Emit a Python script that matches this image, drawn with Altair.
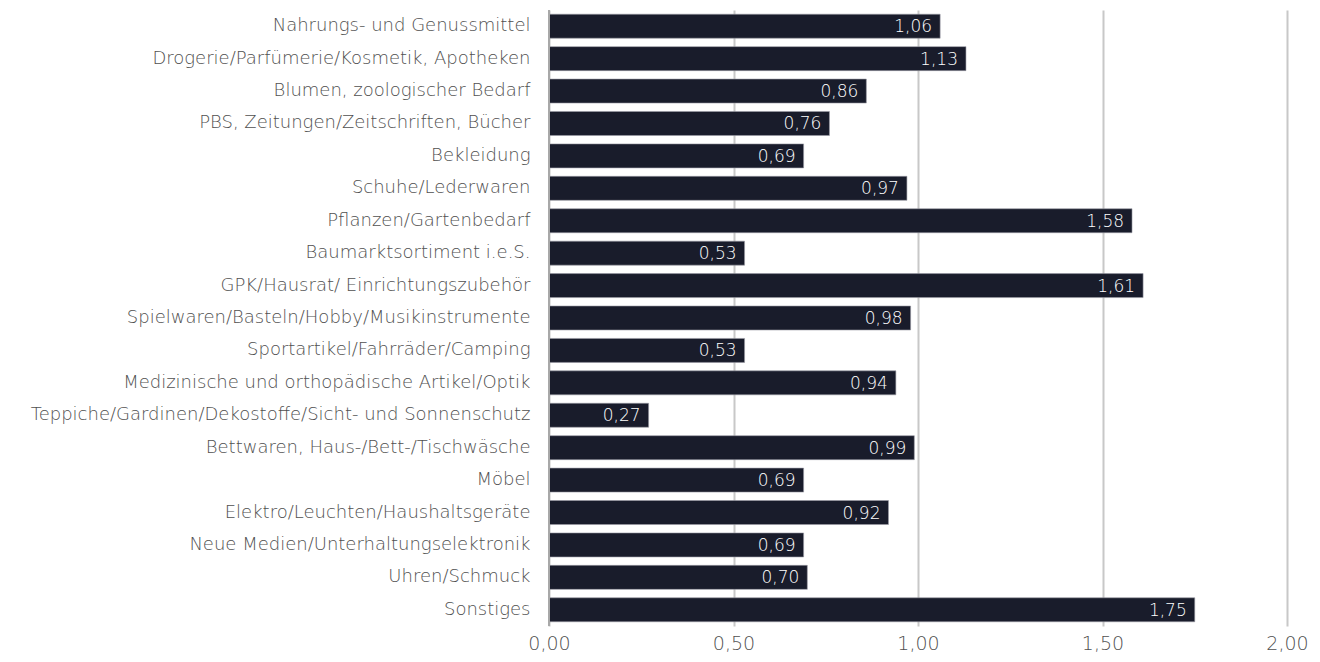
import altair as alt
import pandas as pd

categories = [
    "Nahrungs- und Genussmittel",
    "Drogerie/Parfümerie/Kosmetik, Apotheken",
    "Blumen, zoologischer Bedarf",
    "PBS, Zeitungen/Zeitschriften, Bücher",
    "Bekleidung",
    "Schuhe/Lederwaren",
    "Pflanzen/Gartenbedarf",
    "Baumarktsortiment i.e.S.",
    "GPK/Hausrat/ Einrichtungszubehör",
    "Spielwaren/Basteln/Hobby/Musikinstrumente",
    "Sportartikel/Fahrräder/Camping",
    "Medizinische und orthopädische Artikel/Optik",
    "Teppiche/Gardinen/Dekostoffe/Sicht- und Sonnenschutz",
    "Bettwaren, Haus-/Bett-/Tischwäsche",
    "Möbel",
    "Elektro/Leuchten/Haushaltsgeräte",
    "Neue Medien/Unterhaltungselektronik",
    "Uhren/Schmuck",
    "Sonstiges",
]
values = [1.06, 1.13, 0.86, 0.76, 0.69, 0.97, 1.58, 0.53, 1.61, 0.98,
          0.53, 0.94, 0.27, 0.99, 0.69, 0.92, 0.69, 0.70, 1.75]
x_ticks = [0, 0.5, 1.0, 1.5, 2.0]

df = pd.DataFrame({"cat": categories, "val": values})
df["label"] = [f"{v:.2f}".replace(".", ",") for v in values]

FONT = "DejaVu Sans"
BAR = "#191c2b"

y = alt.Y("cat:N", sort=categories, title=None,
          scale=alt.Scale(paddingInner=0.26, paddingOuter=0.13),
          axis=alt.Axis(labelFontSize=18, labelColor="#505050", labelFont=FONT,
                        labelFontWeight=200, labelPadding=19, labelLimit=0,
                        ticks=False, domain=False, grid=False))
x = alt.X("val:Q", title=None,
          scale=alt.Scale(domain=[0, 2], nice=False),
          axis=alt.Axis(values=x_ticks, labelExpr="replace(format(datum.value, '.2f'), '.', ',')",
                        labelFontSize=19, labelColor="#505050", labelFont=FONT,
                        labelFontWeight=200, labelPadding=8, labelFlush=False,
                        ticks=False, domain=False,
                        grid=True, gridColor="#c8c8c8", gridWidth=2))

bars = alt.Chart(df).mark_bar(color=BAR, stroke="#9a9aa4", strokeWidth=0.6).encode(x=x, y=y)
text = alt.Chart(df).mark_text(align="right", baseline="middle", dx=-8, dy=1, color="white",
                               fontSize=17, font=FONT, fontWeight=200).encode(
    x="val:Q", y=alt.Y("cat:N", sort=categories), text="label:N")

zero = alt.Chart(pd.DataFrame({"z": [0]})).mark_rule(color="#a8a8a8", strokeWidth=2).encode(x="z:Q")

chart = alt.layer(bars, zero, text).properties(
    width=738, height=616,
    background="white",
    autosize=alt.AutoSizeParams(type="none"),
    padding={"left": 541, "top": 2, "right": 22, "bottom": 28},
).configure_view(stroke=None)

chart.save("out.html", embed_options={"renderer": "svg", "actions": False})
